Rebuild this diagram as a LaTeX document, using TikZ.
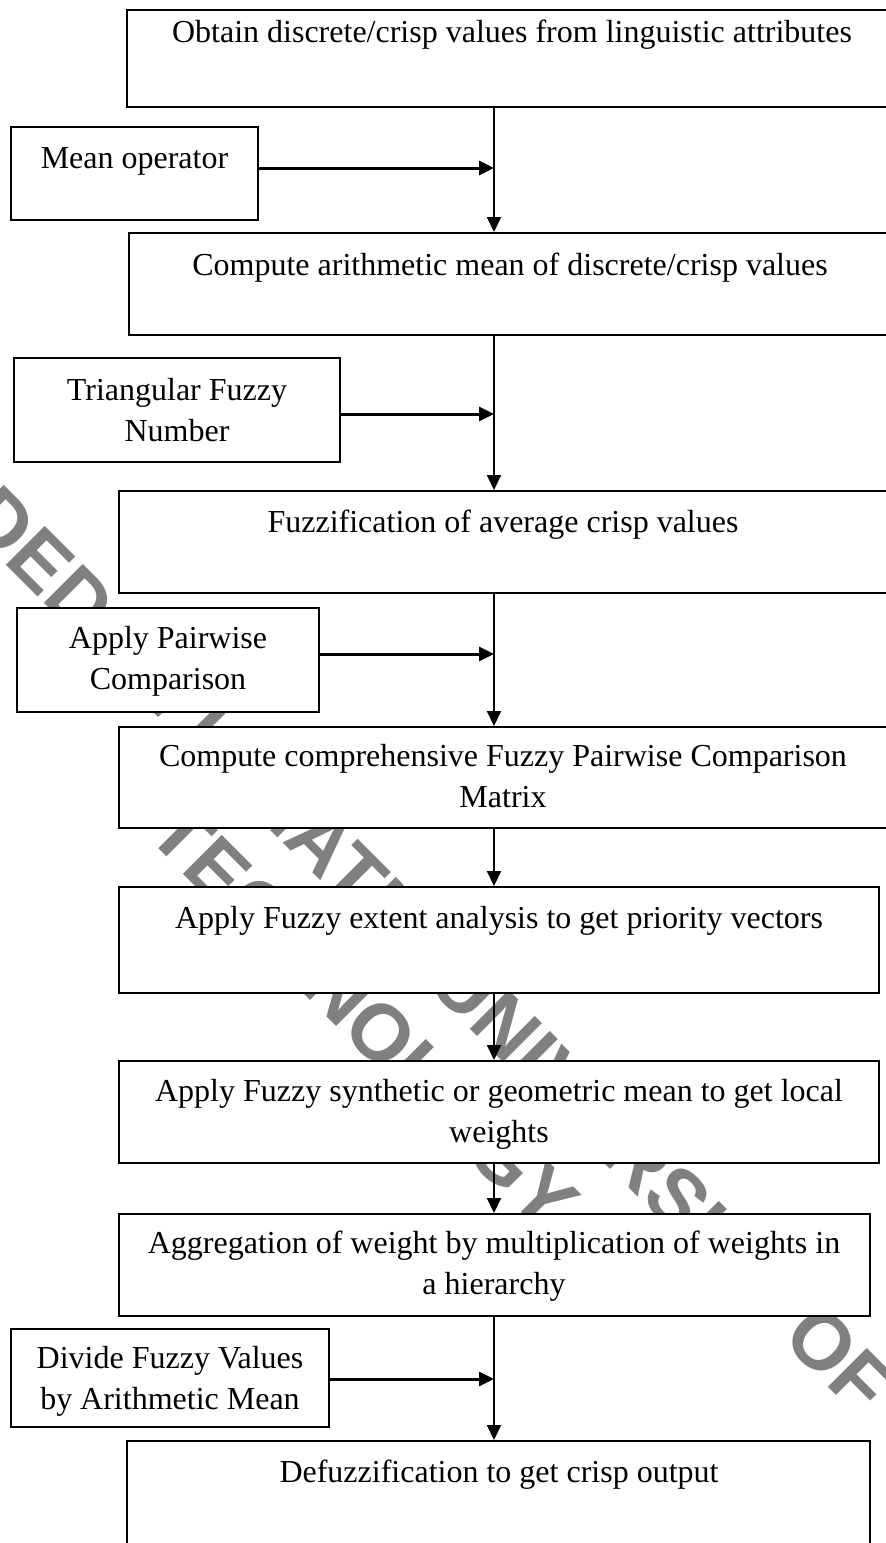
\documentclass[tikz,border=0pt]{standalone}
\usepackage{fontspec}
\setmainfont{Liberation Serif}
\newfontfamily\wmfont{Liberation Sans}
\usetikzlibrary{arrows.meta,fit}
\begin{document}
\begin{tikzpicture}[x=0.5pt,y=-0.5pt,
  box/.style={draw=black, fill=white, line width=1pt, inner sep=0pt},
  lbl/.style={font=\fontsize{16}{20.5}\selectfont, align=center, inner sep=0pt, anchor=base},
  flow/.style={line width=1pt, -{Triangle[length=7.5pt,width=7pt]}},
  feed/.style={line width=1.5pt, -{Triangle[length=7.5pt,width=7pt]}},
  wmark/.style={font=\wmfont\bfseries\fontsize{40}{46.5}\selectfont, text=black!50, align=center, rotate=-45, inner sep=0pt}
]
\useasboundingbox (0,0) rectangle (886,1543);
\clip (0,0) rectangle (886,1543);

% watermark behind everything
\node[wmark] (wm) at (397,983) {DEDAN KIMATHI UNIVERSITY OF\\TECHNOLOGY};

% process boxes (main column) and input boxes (left)
\node[box, fit={(127,10) (897,107)}] (b1) {};
\node[box, fit={(11,127) (258,220)}] (m1) {};
\node[box, fit={(129,233) (891,335)}] (b2) {};
\node[box, fit={(14,358) (340,462)}] (t1) {};
\node[box, fit={(119,491) (887,593)}] (b3) {};
\node[box, fit={(17,608) (319,712)}] (a1) {};
\node[box, fit={(119,727) (887,828)}] (b4) {};
\node[box, fit={(119,887) (879,993)}] (b5) {};
\node[box, fit={(119,1061) (879,1163)}] (b6) {};
\node[box, fit={(119,1214) (870,1316)}] (b7) {};
\node[box, fit={(11,1329) (329,1427)}] (d1) {};
\node[box, fit={(127,1441) (870,1560)}] (b8) {};

% labels (base anchor = baseline of the last line)
\node[lbl] (b1t) at (512,42) {Obtain discrete/crisp values from linguistic attributes};
\node[lbl] (m1t) at (134.5,168) {Mean operator};
\node[lbl] (b2t) at (510,275) {Compute arithmetic mean of discrete/crisp values};
\node[lbl] (t1t) at (177,441) {Triangular Fuzzy\\Number};
\node[lbl] (b3t) at (503,532) {Fuzzification of average crisp values};
\node[lbl] (a1t) at (168,689) {Apply Pairwise\\Comparison};
\node[lbl] (b4t) at (503,807) {Compute comprehensive Fuzzy Pairwise Comparison\\Matrix};
\node[lbl] (b5t) at (499,928) {Apply Fuzzy extent analysis to get priority vectors};
\node[lbl] (b6t) at (499,1142) {Apply Fuzzy synthetic or geometric mean to get local\\weights};
\node[lbl] (b7t) at (494,1294) {Aggregation of weight by multiplication of weights in\\a hierarchy};
\node[lbl] (d1t) at (170,1409) {Divide Fuzzy Values\\by Arithmetic Mean};
\node[lbl] (b8t) at (499,1482) {Defuzzification to get crisp output};

% junctions on the main flow line
\coordinate (j1) at (494,168);
\coordinate (j2) at (494,414);
\coordinate (j3) at (494,654);
\coordinate (j4) at (494,1379);

% main flow
\draw[flow] (b1.south -| j1) -- (b2.north -| j1);
\draw[flow] (b2.south -| j1) -- (b3.north -| j1);
\draw[flow] (b3.south -| j1) -- (b4.north -| j1);
\draw[flow] (b4.south -| j1) -- (b5.north -| j1);
\draw[flow] (b5.south -| j1) -- (b6.north -| j1);
\draw[flow] (b6.south -| j1) -- (b7.north -| j1);
\draw[flow] (b7.south -| j1) -- (b8.north -| j1);

% side inputs
\draw[feed] (m1.east |- j1) -- (j1);
\draw[feed] (t1.east |- j2) -- (j2);
\draw[feed] (a1.east |- j3) -- (j3);
\draw[feed] (d1.east |- j4) -- (j4);
\end{tikzpicture}
\end{document}
